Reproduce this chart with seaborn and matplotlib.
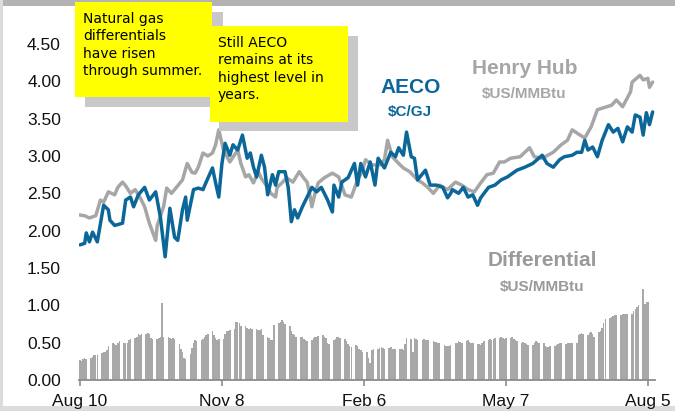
import matplotlib
matplotlib.use("Agg")
import matplotlib.pyplot as plt
from matplotlib.patches import Rectangle
import seaborn as sns

# days since Aug 10 (2020)
hh_day = [0, 3, 6, 10, 13, 15, 18, 22, 24, 27, 29, 32, 35, 38, 41, 44, 48, 49, 53, 55,
          58, 60, 65, 68, 71, 73, 75, 78, 81, 84, 86, 88, 91, 95, 100, 102, 105, 107, 110, 113,
          115, 119, 121, 124, 125, 128, 131, 135, 139, 142, 144, 146, 147, 149, 151, 155, 160, 164, 166, 168,
          172, 176, 179, 181, 185, 190, 193, 195, 198, 202, 205, 209, 214, 217, 221, 224, 228, 233, 238, 242,
          246, 250, 254, 258, 262, 266, 269, 273, 279, 285, 288, 293, 300, 305, 309, 312, 317, 320, 324, 328,
          334, 337, 340, 344, 349, 350, 355, 357, 360, 361, 363]
hh_val = [2.21, 2.20, 2.17, 2.20, 2.41, 2.38, 2.52, 2.48, 2.58, 2.65, 2.60, 2.50, 2.55, 2.45, 2.32, 2.10, 1.87, 2.07, 2.32, 2.57,
          2.50, 2.55, 2.68, 2.90, 2.78, 2.77, 2.85, 3.04, 3.00, 3.04, 3.15, 3.35, 3.08, 2.92, 3.08, 2.90, 2.72, 2.75, 2.64, 2.79,
          2.70, 2.58, 2.50, 2.45, 2.58, 2.64, 2.71, 2.65, 2.79, 2.70, 2.65, 2.45, 2.32, 2.50, 2.64, 2.71, 2.77, 2.72, 2.60, 2.48,
          2.45, 2.68, 2.80, 2.95, 2.88, 2.88, 2.95, 3.21, 2.99, 2.90, 2.84, 2.79, 2.68, 2.64, 2.57, 2.50, 2.61, 2.55, 2.65, 2.61,
          2.55, 2.52, 2.64, 2.75, 2.77, 2.92, 2.92, 2.97, 2.99, 3.11, 2.99, 2.97, 3.05, 3.15, 3.21, 3.35, 3.28, 3.24, 3.39, 3.62,
          3.66, 3.68, 3.75, 3.66, 3.86, 3.99, 4.08, 4.02, 4.04, 3.92, 3.99]

aeco_day = [0, 3, 4, 6, 8, 11, 15, 18, 19, 22, 27, 29, 32, 34, 37, 41, 44, 48, 51, 54,
            57, 60, 62, 65, 67, 68, 72, 75, 78, 80, 84, 86, 88, 90, 92, 95, 97, 100, 103, 106,
            108, 110, 112, 115, 117, 119, 122, 124, 126, 130, 132, 134, 136, 138, 141, 147, 150, 153, 157, 160,
            161, 164, 166, 170, 174, 176, 178, 181, 184, 187, 189, 193, 197, 200, 202, 205, 207, 210, 212, 214,
            219, 222, 226, 230, 233, 235, 236, 240, 243, 246, 249, 252, 254, 259, 263, 267, 271, 277, 282, 287,
            293, 296, 300, 304, 307, 312, 315, 318, 320, 322, 325, 328, 331, 335, 338, 341, 344, 347, 350, 352,
            355, 357, 359, 361, 363]
aeco_val = [1.81, 1.83, 1.97, 1.85, 1.98, 1.85, 2.34, 2.28, 2.14, 2.07, 2.10, 2.41, 2.45, 2.32, 2.48, 2.58, 2.41, 2.52, 2.18, 1.65,
            2.30, 1.91, 1.87, 2.28, 2.45, 2.14, 2.55, 2.57, 2.55, 2.65, 2.84, 2.64, 2.45, 2.90, 3.17, 3.01, 3.15, 3.08, 3.28, 2.97,
            3.04, 2.85, 2.72, 3.01, 2.85, 2.48, 2.75, 2.61, 2.79, 2.79, 2.58, 2.12, 2.28, 2.17, 2.32, 2.58, 2.52, 2.58, 2.41, 2.25,
            2.61, 2.45, 2.65, 2.71, 2.90, 2.61, 2.90, 2.72, 2.92, 2.61, 2.97, 2.84, 3.05, 2.99, 3.11, 3.01, 3.32, 2.99, 2.97, 2.68,
            2.81, 2.61, 2.61, 2.58, 2.44, 2.50, 2.55, 2.50, 2.58, 2.45, 2.48, 2.34, 2.44, 2.58, 2.61, 2.68, 2.72, 2.81, 2.85, 2.90,
            3.01, 2.90, 2.85, 2.95, 2.99, 3.01, 3.05, 3.05, 3.21, 3.08, 3.12, 2.99, 3.21, 3.42, 3.32, 3.37, 3.19, 3.39, 3.32, 3.55,
            3.52, 3.28, 3.58, 3.42, 3.59]

# differential, one row per week (Mon..Fri)
diff_weeks = [
    [0.27, 0.25, 0.28, 0.29, 0.28],
    [0.30, 0.31, 0.33, 0.34, 0.33],
    [0.36, 0.38, 0.37, 0.40, 0.46],
    [0.49, 0.48, 0.47, 0.50, 0.52],
    [0.50, 0.49, 0.50, 0.53, 0.55],
    [0.56, 0.57, 0.62, 0.60, 0.62],
    [0.62, 0.63, 0.61, 0.56, 0.55],
    [0.55, 0.56, 0.58, 1.03, 0.58],
    [0.58, 0.56, 0.55, 0.56, 0.55],
    [0.48, 0.42, 0.38, 0.30, 0.28],
    [0.35, 0.43, 0.50, 0.53, 0.52],
    [0.53, 0.55, 0.58, 0.60, 0.62],
    [0.65, 0.60, 0.56, 0.54, 0.55],
    [0.55, 0.62, 0.66, 0.66, 0.67],
    [0.68, 0.78, 0.78, 0.77, 0.72],
    [0.72, 0.70, 0.68, 0.69, 0.68],
    [0.68, 0.67, 0.67, 0.68, 0.60],
    [0.58, 0.56, 0.54, 0.53, 0.74],
    [0.76, 0.78, 0.80, 0.78, 0.75],
    [0.72, 0.65, 0.62, 0.60, 0.58],
    [0.58, 0.57, 0.55, 0.53, 0.52],
    [0.53, 0.56, 0.58, 0.57, 0.59],
    [0.60, 0.58, 0.56, 0.50, 0.48],
    [0.54, 0.55, 0.57, 0.58, 0.56],
    [0.55, 0.52, 0.48, 0.46, 0.44],
    [0.47, 0.45, 0.42, 0.40, 0.38],
    [0.37, 0.30, 0.23, 0.40, 0.42],
    [0.42, 0.43, 0.44, 0.43, 0.42],
    [0.43, 0.44, 0.42, 0.41, 0.41],
    [0.41, 0.42, 0.40, 0.48, 0.56],
    [0.55, 0.38, 0.56, 0.55, 0.54],
    [0.54, 0.55, 0.54, 0.53, 0.54],
    [0.52, 0.51, 0.51, 0.50, 0.49],
    [0.47, 0.46, 0.46, 0.45, 0.47],
    [0.49, 0.50, 0.52, 0.51, 0.50],
    [0.52, 0.53, 0.51, 0.50, 0.49],
    [0.48, 0.48, 0.47, 0.49, 0.52],
    [0.54, 0.55, 0.54, 0.55, 0.56],
    [0.56, 0.57, 0.56, 0.55, 0.56],
    [0.56, 0.57, 0.55, 0.53, 0.52],
    [0.50, 0.51, 0.50, 0.48, 0.47],
    [0.47, 0.49, 0.52, 0.51, 0.50],
    [0.50, 0.46, 0.44, 0.44, 0.45],
    [0.45, 0.47, 0.48, 0.49, 0.49],
    [0.48, 0.49, 0.50, 0.49, 0.50],
    [0.49, 0.60, 0.62, 0.63, 0.62],
    [0.60, 0.63, 0.64, 0.62, 0.57],
    [0.64, 0.66, 0.70, 0.76, 0.82],
    [0.83, 0.85, 0.86, 0.87, 0.87],
    [0.87, 0.88, 0.89, 0.89, 0.89],
    [0.89, 0.92, 0.95, 0.98, 1.00],
    [1.22, 1.02, 1.04, 1.05],
]

tick_day = [0, 90, 180, 270, 360]
tick_label = ["Aug 10", "Nov 8", "Feb 6", "May 7", "Aug 5"]
y_ticks = [0.0, 0.5, 1.0, 1.5, 2.0, 2.5, 3.0, 3.5, 4.0, 4.5]

BLUE = "#0b6699"
GREY_LINE = "#a6a6a6"
GREY_BAR = "#a8a8a8"

bar_day = [7 * k + d for k, week in enumerate(diff_weeks) for d in range(len(week))]
bar_val = [v for week in diff_weeks for v in week]

sns.set_theme(style="white")
plt.rcParams["font.family"] = ["Liberation Sans", "DejaVu Sans"]

W, H = 675, 411
fig = plt.figure(figsize=(W / 100, H / 100), dpi=100)


def px_rect(left, top, right, bottom):
    return [left / W, 1 - bottom / H, (right - left) / W, (bottom - top) / H]


ax = fig.add_axes(px_rect(79, 44, 655, 380))

sns.barplot(x=bar_day, y=bar_val, native_scale=True, width=0.98, color=GREY_BAR,
            saturation=1, errorbar=None, linewidth=0, ax=ax)
sns.lineplot(x=hh_day, y=hh_val, color=GREY_LINE, linewidth=2.5, ax=ax)
sns.lineplot(x=aeco_day, y=aeco_val, color=BLUE, linewidth=2.5, ax=ax)

ax.set_xlim(-0.6, 364.5)
ax.set_ylim(0, 4.5)
ax.set_xticks(tick_day)
ax.set_xticklabels(tick_label)
ax.set_yticks(y_ticks)
ax.set_yticklabels([f"{v:.2f}" for v in y_ticks])
ax.set_xlabel("")
ax.set_ylabel("")
ax.grid(False)
for side in ["top", "right", "left"]:
    ax.spines[side].set_visible(False)
ax.spines["bottom"].set_color("#8c8c8c")
ax.spines["bottom"].set_linewidth(1.3)
ax.tick_params(axis="x", direction="out", length=4, width=1.2, color="#8c8c8c",
               labelsize=12.5, labelcolor="#111111", pad=6, bottom=True)
ax.tick_params(axis="y", length=0, labelsize=12.5, labelcolor="#111111", pad=13)


def add_rect(left, top, right, bottom, color, z):
    x, y, w, h = px_rect(left, top, right, bottom)
    fig.add_artist(Rectangle((x, y), w, h, transform=fig.transFigure,
                             facecolor=color, edgecolor="none", zorder=z))


# slide frame
add_rect(0, 0, W, 6, "#b3b3b3", -1)
add_rect(0, 0, 3, H, "#dcdcdc", -1)
add_rect(0, 406, W, H, "#dcdcdc", -1)

# callout boxes with drop shadow
add_rect(85, 12, 223, 107, "#c8c8c8", 5)
add_rect(75, 2, 212, 97, "#ffff00", 6)
add_rect(219, 36, 358, 131, "#c8c8c8", 7)
add_rect(210, 26, 348, 122, "#ffff00", 8)

note_font = ["DejaVu Sans"]
fig.text(83 / W, 1 - 12 / H, "Natural gas\ndifferentials\nhave risen\nthrough summer.",
         ha="left", va="top", fontsize=10, linespacing=1.3, color="black",
         family=note_font, zorder=9)
fig.text(218 / W, 1 - 36 / H, "Still AECO\nremains at its\nhighest level in\nyears.",
         ha="left", va="top", fontsize=10, linespacing=1.3, color="black",
         family=note_font, zorder=9)

# series labels
fig.text(411 / W, 1 - 93 / H, "AECO", ha="center", va="baseline",
         fontsize=15, fontweight="bold", color=BLUE)
fig.text(410 / W, 1 - 116 / H, "$C/GJ", ha="center", va="baseline",
         fontsize=11, fontweight="bold", color=BLUE)
fig.text(525 / W, 1 - 74 / H, "Henry Hub", ha="center", va="baseline",
         fontsize=15, fontweight="bold", color=GREY_LINE)
fig.text(524 / W, 1 - 98 / H, "$US/MMBtu", ha="center", va="baseline",
         fontsize=11, fontweight="bold", color=GREY_LINE)
fig.text(542 / W, 1 - 266 / H, "Differential", ha="center", va="baseline",
         fontsize=15, fontweight="bold", color="#9a9a9a")
fig.text(542 / W, 1 - 291 / H, "$US/MMBtu", ha="center", va="baseline",
         fontsize=11, fontweight="bold", color="#9a9a9a")

fig.savefig("out.png", dpi=100)
